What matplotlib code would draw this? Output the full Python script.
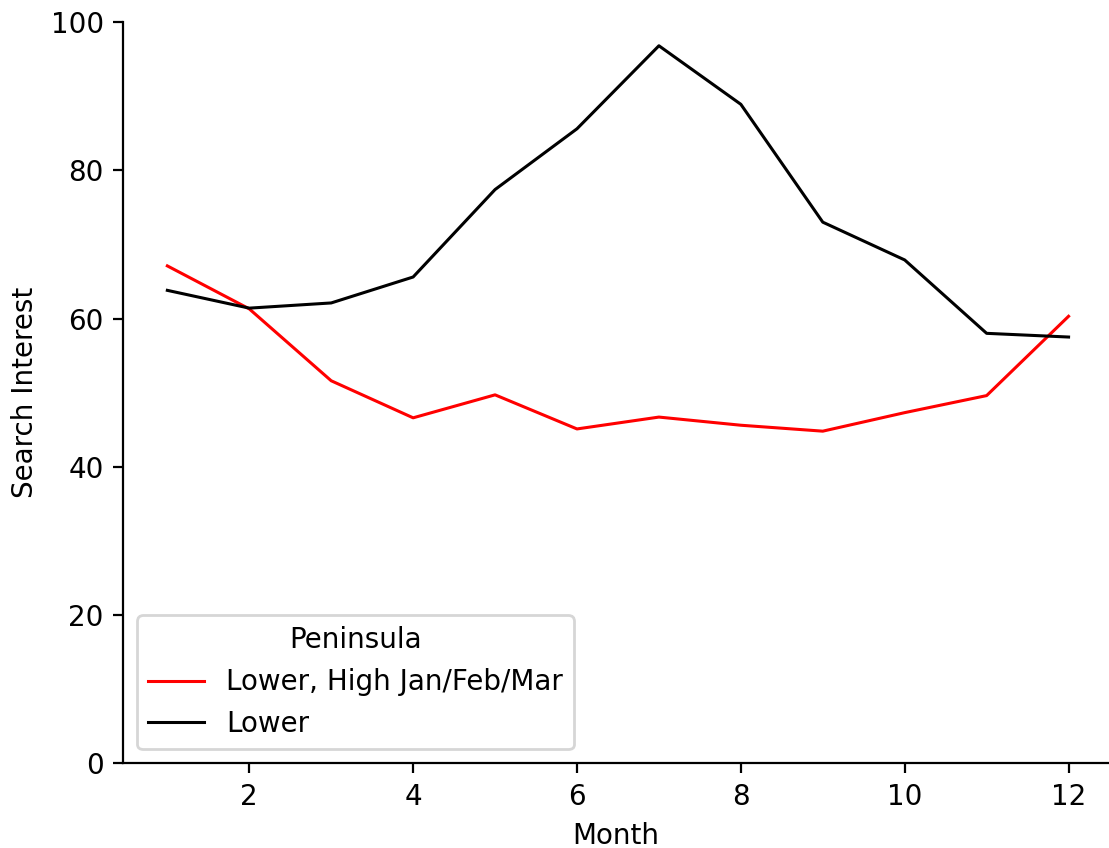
import matplotlib
matplotlib.use("Agg")
import matplotlib.pyplot as plt

# Monthly search interest
months = [1, 2, 3, 4, 5, 6, 7, 8, 9, 10, 11, 12]
lower_high_jfm = [67.1, 61.3, 51.6, 46.6, 49.7, 45.1, 46.7, 45.6, 44.8, 47.3, 49.6, 60.3]
lower = [63.8, 61.4, 62.1, 65.6, 77.4, 85.6, 96.8, 88.9, 73.0, 67.9, 58.0, 57.5]
series_labels = ["Lower, High Jan/Feb/Mar", "Lower"]

DPI = 200
fig = plt.figure(figsize=(1109 / DPI, 848 / DPI), dpi=DPI)
ax = fig.add_axes([0.111, 0.1, 0.888, 0.874])

ax.plot(months, lower_high_jfm, color="red", lw=1.1, label=series_labels[0])
ax.plot(months, lower, color="black", lw=1.1, label=series_labels[1])

ax.set_xlim(0.46, 12.48)
ax.set_ylim(0, 100)
ax.set_xticks([2, 4, 6, 8, 10, 12])
ax.set_xlabel("Month")
ax.set_ylabel("Search Interest")
ax.spines["top"].set_visible(False)
ax.spines["right"].set_visible(False)
ax.legend(title="Peninsula", loc="lower left")

fig.savefig("out.png", dpi=DPI)
plt.close(fig)
